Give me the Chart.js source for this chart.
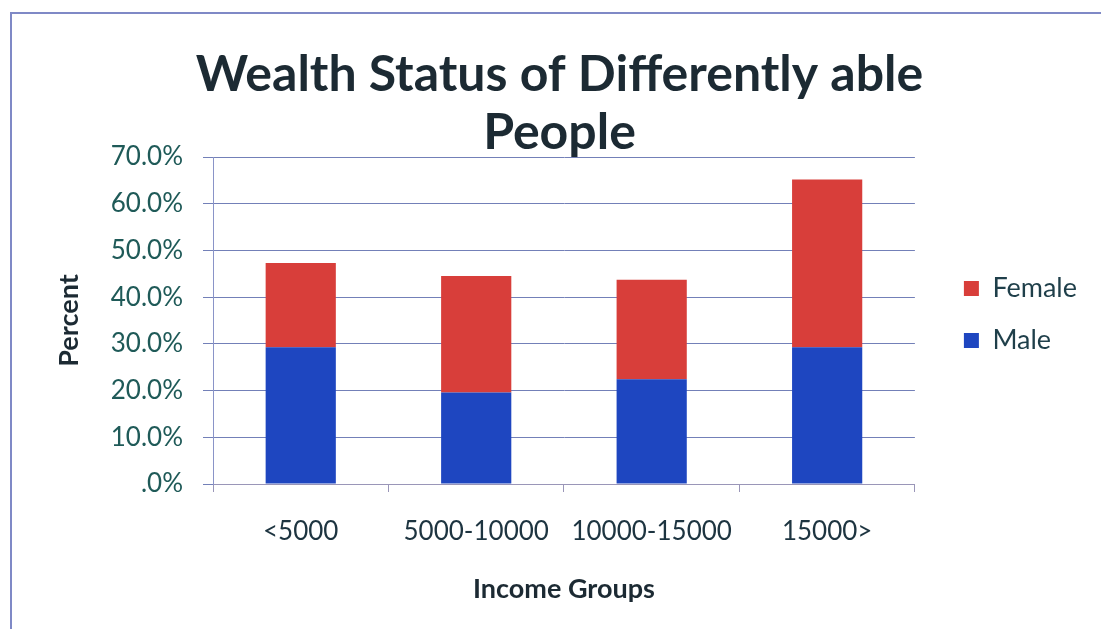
<!DOCTYPE html>
<html>
<head>
<meta charset="utf-8">
<script src="https://cdn.jsdelivr.net/npm/chart.js@4/dist/chart.umd.min.js"></script>
<style>
    html, body { margin: 0; padding: 0; background: #fff; }
    #wrap { position: relative; width: 1101px; height: 629px; }
    #frame {
        position: absolute; left: 10px; top: 12px; width: 1091px; height: 617px;
        border-top: 2px solid #7f89c6; border-left: 2px solid #7f89c6;
        pointer-events: none;
    }
</style>
</head>
<body>
<div id="wrap">
    <canvas id="wealthChart" width="1101" height="629"></canvas>
    <div id="frame"></div>
</div>
<script>
const incomeGroups = ["<5000", "5000-10000", "10000-15000", "15000>"];
const maleValues = [29.3, 19.6, 22.4, 29.3];
const femaleValues = [18.0, 24.9, 21.3, 35.9];
const yTicks = [0, 10, 20, 30, 40, 50, 60, 70];

// extra gap between plot area and legend (Excel leaves more room than Chart.js)
const legendGap = {
    id: "legendGap",
    beforeLayout(chart) {
        const lg = chart.legend;
        if (lg && !lg._gapPatched) {
            const fit = lg.fit;
            lg.fit = function () { fit.call(this); this.width += 24; };
            lg._gapPatched = true;
        }
    },
    afterLayout(chart) {
        if (chart.legend) chart.legend.left += 24;
    }
};

document.addEventListener("DOMContentLoaded", () => {
    const ctx = document.getElementById("wealthChart").getContext("2d");

    const data = {
        labels: incomeGroups,
        datasets: [
            {
                label: "Male",
                data: maleValues,
                backgroundColor: "rgb(30, 70, 192)",
                barPercentage: 0.4,
                categoryPercentage: 1.0
            },
            {
                label: "Female",
                data: femaleValues,
                backgroundColor: "rgb(216, 62, 58)",
                barPercentage: 0.4,
                categoryPercentage: 1.0
            }
        ]
    };

    const options = {
        responsive: false,
        animation: false,
        layout: {
            padding: { top: 0, right: 14, bottom: 0, left: 32 }
        },
        plugins: {
            title: {
                display: true,
                text: ["Wealth Status of Differently able", "People"],
                color: "#1c2a33",
                font: { family: "Lato", size: 50, weight: "bold", lineHeight: 1.16 },
                padding: { top: 46, bottom: -5 }
            },
            legend: {
                display: true,
                position: "right",
                reverse: true,
                labels: {
                    color: "#1f3f4a",
                    boxWidth: 15,
                    boxHeight: 15,
                    padding: 25,
                    font: { family: "Lato", size: 27 }
                }
            },
            tooltip: { enabled: false }
        },
        scales: {
            x: {
                stacked: true,
                afterFit(scale) { scale.height = 629 - 484; },
                border: { color: "#9a96b8", width: 1 },
                grid: {
                    display: true,
                    drawOnChartArea: false,
                    drawTicks: true,
                    tickLength: 8,
                    color: "#9a96b8"
                },
                ticks: {
                    color: "#1d3440",
                    padding: 24,
                    font: { family: "Lato", size: 26 }
                },
                title: {
                    display: true,
                    text: "Income Groups",
                    color: "#1c2a33",
                    padding: { top: 0, bottom: 24 },
                    font: { family: "Lato", size: 27, weight: "bold" }
                }
            },
            y: {
                stacked: true,
                min: 0,
                max: 70,
                afterFit(scale) { scale.width = 213 - 32; },
                afterBuildTicks(scale) { scale.ticks = yTicks.map(v => ({ value: v })); },
                border: { color: "#8a94c8", width: 1 },
                grid: {
                    color: "#7380b8",
                    lineWidth: 1,
                    drawTicks: true,
                    tickLength: 10
                },
                ticks: {
                    color: "#1f5a58",
                    padding: 20,
                    font: { family: "Lato", size: 26 },
                    callback: v => (v === 0 ? ".0%" : v.toFixed(1) + "%")
                },
                title: {
                    display: true,
                    text: "Percent",
                    color: "#1c2a33",
                    padding: { top: 21, bottom: 0 },
                    font: { family: "Lato", size: 27, weight: "bold" }
                }
            }
        }
    };

    new Chart(ctx, {
        type: "bar",
        data: data,
        options: options,
        plugins: [legendGap]
    });
});
</script>
</body>
</html>
